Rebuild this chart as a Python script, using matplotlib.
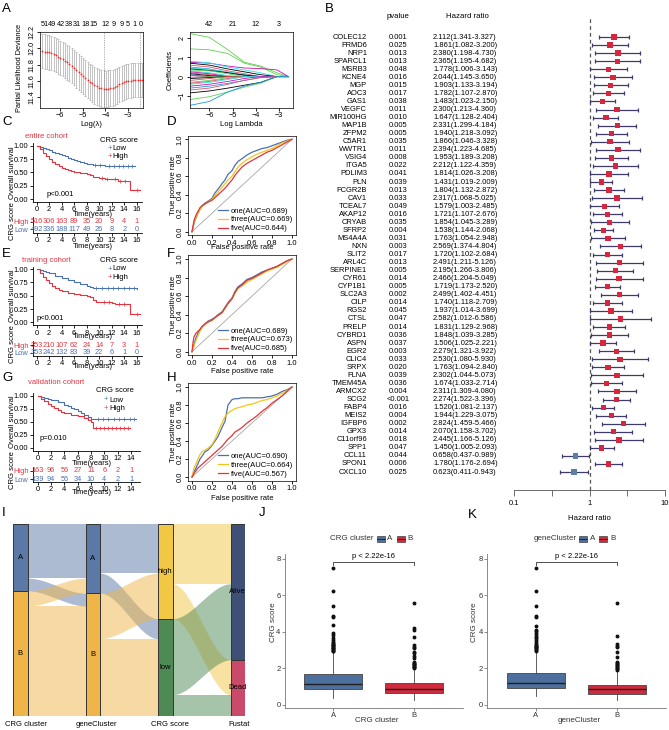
import numpy as np
import matplotlib
matplotlib.use('Agg')
import matplotlib.pyplot as plt
from matplotlib.patches import Rectangle
import matplotlib.transforms as mtransforms

plt.rcParams['font.family'] = ['Liberation Sans', 'DejaVu Sans']
plt.rcParams['font.size'] = 5
plt.rcParams['axes.linewidth'] = 0.6
for _a in ('xtick', 'ytick'):
    plt.rcParams[_a + '.major.width'] = 0.6
    plt.rcParams[_a + '.major.size'] = 2
    plt.rcParams[_a + '.major.pad'] = 1.2
    plt.rcParams[_a + '.labelsize'] = 5.2

# ======================= DATA =======================
# A (left): cross-validation curve
cv_loglam = [-6.78, -6.68, -6.58, -6.48, -6.38, -6.28, -6.18, -6.08, -5.98, -5.88,
             -5.78, -5.68, -5.58, -5.48, -5.38, -5.28, -5.18, -5.08, -4.98, -4.88,
             -4.78, -4.68, -4.58, -4.48, -4.38, -4.28, -4.18, -4.08, -3.98, -3.88,
             -3.78, -3.68, -3.58, -3.48, -3.38, -3.28, -3.18, -3.08, -2.98, -2.88,
             -2.78, -2.68, -2.58, -2.48, -2.38]
cv_dev = [11.965, 11.96, 11.955, 11.95, 11.94, 11.93, 11.915, 11.90, 11.885, 11.87,
          11.85, 11.83, 11.81, 11.79, 11.765, 11.74, 11.715, 11.69, 11.665, 11.64,
          11.615, 11.59, 11.57, 11.55, 11.535, 11.52, 11.51, 11.505, 11.503, 11.505,
          11.51, 11.52, 11.53, 11.545, 11.56, 11.575, 11.585, 11.595, 11.60, 11.605,
          11.61, 11.61, 11.612, 11.613, 11.613]
cv_se = [0.21, 0.21, 0.21, 0.21, 0.21, 0.21, 0.21, 0.21, 0.21, 0.21,
         0.215, 0.215, 0.215, 0.215, 0.215, 0.22, 0.22, 0.22, 0.22, 0.22,
         0.22, 0.22, 0.225, 0.225, 0.225, 0.225, 0.225, 0.225, 0.225, 0.225,
         0.22, 0.22, 0.22, 0.22, 0.215, 0.215, 0.215, 0.21, 0.21, 0.21,
         0.21, 0.21, 0.21, 0.21, 0.21]
cv_vlines = [-4.04, -2.47]
cv_top_pos = [-6.69, -6.33, -5.97, -5.61, -5.25, -4.89, -4.53, -4.0, -3.62, -3.27, -3.0, -2.7, -2.42]
cv_top_labels = ['51', '49', '42', '38', '31', '18', '15', '12', '9', '9', '5', '1', '0']

# A (right): lasso coefficient paths
path_loglam = [-6.83, -6.0, -5.2, -4.5, -3.8, -3.1, -2.6]
path_coefs = [
    [2.25, 2.05, 1.40, 0.75, 0.55, 0.20, 0.00],
    [1.45, 1.40, 1.20, 0.70, 0.50, 0.10, 0.00],
    [0.75, 0.70, 0.55, 0.45, 0.42, 0.35, 0.00],
    [0.80, 0.72, 0.50, 0.35, 0.20, 0.00, 0.00],
    [0.70, 0.60, 0.40, 0.25, 0.10, 0.00, 0.00],
    [0.60, 0.50, 0.30, 0.15, 0.00, 0.00, 0.00],
    [0.50, 0.40, 0.20, 0.05, 0.00, 0.00, 0.00],
    [0.45, 0.38, 0.25, 0.10, 0.00, 0.00, 0.00],
    [0.40, 0.32, 0.20, 0.08, 0.00, 0.00, 0.00],
    [0.35, 0.30, 0.15, 0.00, 0.00, 0.00, 0.00],
    [0.30, 0.20, 0.05, 0.00, 0.00, 0.00, 0.00],
    [0.25, 0.15, 0.00, 0.00, 0.00, 0.00, 0.00],
    [0.20, 0.10, 0.00, 0.00, 0.00, 0.00, 0.00],
    [0.15, 0.05, 0.00, 0.00, 0.00, 0.00, 0.00],
    [0.10, 0.00, 0.00, 0.00, 0.00, 0.00, 0.00],
    [0.05, 0.00, 0.00, 0.00, 0.00, 0.00, 0.00],
    [-0.05, 0.00, 0.00, 0.00, 0.00, 0.00, 0.00],
    [-0.10, -0.05, 0.00, 0.00, 0.00, 0.00, 0.00],
    [-0.20, -0.10, 0.00, 0.00, 0.00, 0.00, 0.00],
    [-0.30, -0.20, -0.05, 0.00, 0.00, 0.00, 0.00],
    [-0.35, -0.25, -0.10, 0.00, 0.00, 0.00, 0.00],
    [-0.40, -0.30, -0.15, 0.00, 0.00, 0.00, 0.00],
    [-0.50, -0.40, -0.25, -0.10, 0.00, 0.00, 0.00],
    [-0.60, -0.50, -0.35, -0.20, -0.05, 0.00, 0.00],
    [-0.70, -0.60, -0.40, -0.20, -0.05, 0.00, 0.00],
    [-0.85, -0.75, -0.60, -0.45, -0.30, 0.00, 0.00],
    [-1.20, -1.05, -0.80, -0.55, -0.35, 0.00, 0.00],
    [-1.50, -1.30, -0.80, -0.50, -0.30, 0.00, 0.00],
]
path_colors = ['#61D04F', '#61D04F', '#CD0BBC', '#28E2E5', '#000000', '#DF536B', '#2297E6',
               '#28E2E5', '#000000', '#61D04F', '#28E2E5', '#CD0BBC', '#DF536B', '#000000',
               '#2297E6', '#CD0BBC', '#61D04F', '#000000', '#DF536B', '#61D04F', '#DF536B',
               '#28E2E5', '#CD0BBC', '#2297E6', '#DF536B', '#000000', '#61D04F', '#2297E6']
path_top_pos = [-6, -5, -4, -3]
path_top_labels = ['42', '21', '12', '3']

# B: forest plot
genes = ['COLEC12', 'FRMD6', 'NRP1', 'SPARCL1', 'MSRB3', 'KCNE4', 'MGP', 'AOC3', 'GAS1', 'VEGFC',
         'MIR100HG', 'MAP1B', 'ZFPM2', 'C5AR1', 'WWTR1', 'VSIG4', 'ITGA5', 'PDLIM3', 'PLN', 'FCGR2B',
         'CAV1', 'TCEAL7', 'AKAP12', 'CRYAB', 'SFRP2', 'MS4A4A', 'NXN', 'SLIT2', 'ARL4C', 'SERPINE1',
         'CYR61', 'CYP1B1', 'SLC2A3', 'CILP', 'RGS2', 'CTSL', 'PRELP', 'CYBRD1', 'ASPN', 'EGR2',
         'CLIC4', 'SRPX', 'FLNA', 'TMEM45A', 'ARMCX2', 'SCG2', 'FABP4', 'MEIS2', 'IGFBP6', 'GPX3',
         'C11orf96', 'SPP1', 'CCL11', 'SPON1', 'CXCL10']
pvals = ['0.001', '0.025', '0.013', '0.013', '0.048', '0.016', '0.015', '0.017', '0.038', '0.011',
         '0.010', '0.005', '0.005', '0.035', '0.011', '0.008', '0.022', '0.041', '0.039', '0.013',
         '0.033', '0.049', '0.016', '0.035', '0.004', '0.031', '0.003', '0.017', '0.013', '0.005',
         '0.014', '0.005', '0.002', '0.014', '0.045', '0.047', '0.014', '0.036', '0.037', '0.003',
         '0.033', '0.020', '0.039', '0.036', '0.004', '<0.001', '0.016', '0.004', '0.002', '0.014',
         '0.018', '0.047', '0.044', '0.006', '0.025']
hr = [2.112, 1.861, 2.380, 2.365, 1.778, 2.044, 1.903, 1.782, 1.483, 2.300,
      1.647, 2.331, 1.940, 1.866, 2.394, 1.953, 2.212, 1.814, 1.431, 1.804,
      2.317, 1.579, 1.721, 1.854, 1.538, 1.763, 2.569, 1.720, 2.491, 2.195,
      2.466, 1.719, 2.499, 1.740, 1.937, 2.582, 1.831, 1.848, 1.506, 2.279,
      2.530, 1.763, 2.302, 1.674, 2.311, 2.274, 1.520, 1.944, 2.824, 2.070,
      2.445, 1.450, 0.658, 1.780, 0.623]
hr_lo = [1.341, 1.082, 1.198, 1.195, 1.006, 1.145, 1.133, 1.107, 1.023, 1.213,
         1.128, 1.299, 1.218, 1.046, 1.223, 1.189, 1.122, 1.026, 1.019, 1.132,
         1.068, 1.003, 1.107, 1.045, 1.144, 1.054, 1.374, 1.102, 1.211, 1.266,
         1.204, 1.173, 1.402, 1.118, 1.014, 1.012, 1.129, 1.039, 1.025, 1.321,
         1.080, 1.094, 1.044, 1.033, 1.309, 1.522, 1.081, 1.229, 1.459, 1.158,
         1.166, 1.005, 0.437, 1.176, 0.411]
hr_hi = [3.327, 3.200, 4.730, 4.682, 3.143, 3.650, 3.194, 2.870, 2.150, 4.360,
         2.404, 4.184, 3.092, 3.328, 4.685, 3.208, 4.359, 3.208, 2.009, 2.872,
         5.025, 2.485, 2.676, 3.289, 2.068, 2.948, 4.804, 2.684, 5.126, 3.806,
         5.049, 2.520, 4.451, 2.709, 3.699, 6.586, 2.968, 3.285, 2.221, 3.922,
         5.930, 2.840, 5.073, 2.714, 4.080, 3.396, 2.137, 3.075, 5.466, 3.702,
         5.126, 2.093, 0.989, 2.694, 0.943]

# C/E/G: Kaplan-Meier curves
km_c_low_t = [0, 0.5, 1, 1.5, 2, 2.5, 3, 3.5, 4, 4.5, 5, 5.5, 6, 6.5, 7, 7.5, 8, 8.5, 9, 10, 11, 15.8]
km_c_low_s = [1, 0.98, 0.96, 0.94, 0.91, 0.89, 0.87, 0.85, 0.83, 0.80, 0.77, 0.75, 0.73, 0.71, 0.69, 0.67, 0.66, 0.65, 0.64, 0.63, 0.62, 0.62]
km_c_high_t = [0, 0.5, 1, 1.5, 2, 2.5, 3, 3.5, 4, 4.5, 5, 5.5, 6, 7, 8, 8.5, 9, 9.5, 10, 11, 12, 13, 15, 16.5]
km_c_high_s = [1, 0.93, 0.86, 0.80, 0.75, 0.70, 0.66, 0.62, 0.59, 0.56, 0.54, 0.52, 0.51, 0.49, 0.47, 0.45, 0.42, 0.41, 0.40, 0.38, 0.37, 0.34, 0.17, 0.17]
km_c_low_cens = [9.3, 10.2, 11.5, 12.3, 13.1, 13.8, 14.6, 15.3]
km_c_high_cens = [10.5, 11.3, 12.5, 13.4, 14.2, 16.0]
km_e_low_t = [0, 0.5, 1, 1.5, 2, 3, 4, 5, 6, 7, 8, 8.5, 9, 10, 16]
km_e_low_s = [1, 0.98, 0.96, 0.94, 0.92, 0.88, 0.84, 0.80, 0.76, 0.72, 0.68, 0.66, 0.65, 0.64, 0.635]
km_e_high_t = [0, 0.5, 1, 1.5, 2, 2.5, 3, 3.5, 4, 5, 6, 7, 8, 8.5, 9, 9.5, 10, 12, 12.5, 15, 16.5]
km_e_high_s = [1, 0.93, 0.86, 0.79, 0.74, 0.69, 0.65, 0.61, 0.59, 0.56, 0.54, 0.52, 0.49, 0.47, 0.42, 0.39, 0.38, 0.36, 0.34, 0.15, 0.15]
km_e_low_cens = [9.5, 10.5, 11.4, 12.2, 13.0, 13.9, 14.8, 15.6]
km_e_high_cens = [10.8, 11.6, 13.2, 14.0, 16.0]
km_g_low_t = [0, 0.5, 1, 1.5, 2, 3, 4, 4.5, 5, 5.5, 6, 6.5, 7, 7.5, 8, 8.4, 14.8]
km_g_low_s = [1, 0.98, 0.96, 0.94, 0.92, 0.88, 0.83, 0.80, 0.77, 0.74, 0.71, 0.67, 0.63, 0.59, 0.56, 0.55, 0.55]
km_g_high_t = [0, 0.5, 1, 1.5, 2, 2.5, 3, 3.5, 4, 5, 6, 7, 7.5, 8, 8.3, 13.9]
km_g_high_s = [1, 0.95, 0.90, 0.85, 0.80, 0.76, 0.73, 0.70, 0.67, 0.64, 0.61, 0.57, 0.54, 0.50, 0.39, 0.39]
km_g_low_cens = [9.0, 9.8, 10.6, 11.4, 12.2, 13.0, 13.8, 14.5]
km_g_high_cens = [8.8, 9.4, 10.0, 10.6, 11.2, 11.8, 12.4, 13.0, 13.6]

risk_c_times = [0, 2, 4, 6, 8, 10, 12, 14, 16]
risk_c_high = [516, 306, 163, 89, 35, 20, 9, 4, 1]
risk_c_low = [492, 336, 188, 117, 49, 26, 8, 2, 0]
risk_e_times = [0, 2, 4, 6, 8, 10, 12, 14, 16]
risk_e_high = [353, 210, 107, 62, 24, 14, 7, 3, 1]
risk_e_low = [353, 242, 132, 83, 39, 22, 6, 1, 0]
risk_g_times = [0, 2, 4, 6, 8, 10, 12, 14]
risk_g_high = [163, 96, 56, 27, 11, 6, 2, 1]
risk_g_low = [139, 94, 56, 34, 10, 4, 2, 1]

# D/F/H: ROC curves
roc_fpr = [0, 0.01, 0.02, 0.04, 0.06, 0.08, 0.1, 0.13, 0.16, 0.2, 0.23, 0.26, 0.3, 0.33, 0.36,
           0.4, 0.43, 0.46, 0.5, 0.55, 0.6, 0.65, 0.7, 0.75, 0.8, 0.85, 0.9, 0.95, 1]
roc_d_one = [0, 0.04, 0.09, 0.15, 0.2, 0.24, 0.28, 0.31, 0.33, 0.36, 0.42, 0.46, 0.52, 0.56, 0.62,
             0.66, 0.72, 0.76, 0.79, 0.83, 0.86, 0.88, 0.90, 0.91, 0.93, 0.95, 0.97, 0.99, 1]
roc_d_three = [0, 0.05, 0.1, 0.16, 0.2, 0.24, 0.27, 0.3, 0.32, 0.35, 0.39, 0.43, 0.48, 0.52, 0.56,
               0.6, 0.65, 0.7, 0.74, 0.78, 0.81, 0.84, 0.86, 0.88, 0.9, 0.93, 0.96, 0.98, 1]
roc_d_five = [0, 0.06, 0.12, 0.18, 0.22, 0.26, 0.28, 0.3, 0.32, 0.34, 0.37, 0.4, 0.44, 0.47, 0.51,
              0.56, 0.61, 0.65, 0.7, 0.74, 0.77, 0.8, 0.83, 0.86, 0.88, 0.91, 0.94, 0.97, 1]
roc_f_one = [0, 0.03, 0.08, 0.15, 0.2, 0.24, 0.27, 0.3, 0.33, 0.35, 0.37, 0.4, 0.43, 0.48, 0.53,
             0.58, 0.65, 0.7, 0.73, 0.78, 0.8, 0.83, 0.86, 0.88, 0.9, 0.92, 0.95, 0.98, 1]
roc_f_three = [0, 0.02, 0.06, 0.12, 0.17, 0.22, 0.26, 0.29, 0.32, 0.34, 0.36, 0.39, 0.42, 0.47, 0.52,
               0.57, 0.63, 0.68, 0.71, 0.75, 0.78, 0.81, 0.84, 0.87, 0.89, 0.91, 0.94, 0.97, 1]
roc_f_five = [0, 0.1, 0.16, 0.2, 0.22, 0.24, 0.27, 0.3, 0.32, 0.34, 0.37, 0.39, 0.42, 0.47, 0.52,
              0.57, 0.64, 0.69, 0.72, 0.77, 0.79, 0.82, 0.85, 0.88, 0.9, 0.92, 0.95, 0.98, 1]
roc_h_one = [0, 0.03, 0.06, 0.1, 0.15, 0.2, 0.23, 0.28, 0.3, 0.35, 0.4, 0.45, 0.55, 0.62, 0.8,
             0.86, 0.87, 0.87, 0.88, 0.88, 0.88, 0.88, 0.88, 0.89, 0.9, 0.92, 0.95, 0.97, 1]
roc_h_three = [0, 0.05, 0.1, 0.15, 0.2, 0.25, 0.28, 0.3, 0.32, 0.36, 0.42, 0.5, 0.6, 0.67, 0.71,
               0.74, 0.76, 0.77, 0.78, 0.8, 0.81, 0.83, 0.85, 0.86, 0.88, 0.9, 0.93, 0.96, 1]
roc_h_five = [0, 0.02, 0.04, 0.07, 0.1, 0.12, 0.14, 0.17, 0.2, 0.24, 0.27, 0.3, 0.34, 0.38, 0.42,
              0.46, 0.5, 0.52, 0.55, 0.6, 0.64, 0.68, 0.73, 0.77, 0.82, 0.86, 0.9, 0.95, 1]
roc_d_labels = ['one(AUC=0.689)', 'three(AUC=0.669)', 'five(AUC=0.644)']
roc_f_labels = ['one(AUC=0.689)', 'three(AUC=0.673)', 'five(AUC=0.685)']
roc_h_labels = ['one(AUC=0.690)', 'three(AUC=0.664)', 'five(AUC=0.567)']

# I: alluvial
sk_axes = ['CRG cluster', 'geneCluster', 'CRG score', 'Fustat']
sk_axes_label_x = [26, 96, 170, 239]
sk_strata = [['A', 'B'], ['A', 'B'], ['high', 'low'], ['Alive', 'Dead']]
sk_flows = [
    {('A', 'A'): 284, ('A', 'B'): 67, ('B', 'A'): 79, ('B', 'B'): 578},
    {('A', 'high'): 258, ('A', 'low'): 105, ('B', 'high'): 239, ('B', 'low'): 406},
    {('high', 'Alive'): 314, ('high', 'Dead'): 183, ('low', 'Alive'): 399, ('low', 'Dead'): 112},
]
sk_colors = [{'A': '#5b78a6', 'B': '#efb548'}, {'A': '#5b78a6', 'B': '#efb548'},
             {'high': '#f2c744', 'low': '#4f8a55'}, {'Alive': '#3f5076', 'Dead': '#c94a6b'}]

# J/K: box plots (five-number summaries and outliers)
box_groups = ['A', 'B']
j_med = [1.17, 0.88]; j_q1 = [0.86, 0.64]; j_q3 = [1.68, 1.19]
j_lo = [0.38, 0.27]; j_hi = [2.90, 1.98]
j_out_a = [2.95, 2.98, 3.02, 3.06, 3.1, 3.14, 3.18, 3.22, 3.27, 3.31, 3.36, 3.41, 3.47, 3.56, 3.65,
           3.84, 3.93, 4.38, 4.80, 4.88, 5.42, 6.26, 7.49]
j_out_b = [2.03, 2.07, 2.1, 2.14, 2.18, 2.22, 2.27, 2.32, 2.37, 2.6, 2.7, 2.83, 2.92, 3.12, 3.2, 3.29,
           3.74, 4.1, 4.2, 5.6]
k_med = [1.22, 0.86]; k_q1 = [0.91, 0.62]; k_q3 = [1.74, 1.11]
k_lo = [0.49, 0.27]; k_hi = [2.90, 1.85]
k_out_a = [2.95, 3.0, 3.05, 3.1, 3.15, 3.2, 3.25, 3.3, 3.36, 3.45, 3.55, 3.65, 3.74, 3.84, 3.95,
           4.05, 4.1, 4.33, 4.80, 4.88, 5.42, 6.26, 7.49]
k_out_b = [1.92, 1.97, 2.02, 2.07, 2.12, 2.17, 2.22, 2.3, 2.37, 2.65, 2.92, 3.16, 3.25, 3.35,
           3.78, 5.6]
box_colors = ['#4d6f9d', '#d02a3e']

# ======================= FIGURE =======================
W, H = 669, 730
fig = plt.figure(figsize=(W / 100, H / 100), dpi=100)

def add_ax(x0, y0, x1, y1):
    return fig.add_axes([x0 / W, 1 - y1 / H, (x1 - x0) / W, (y1 - y0) / H])

def ftext(x, y, s, **kw):
    kw.setdefault('ha', 'center')
    kw.setdefault('va', 'center')
    fig.text(x / W, 1 - y / H, s, **kw)

RED = '#E4343F'
BLUE = '#4A71AF'

# panel letters
for lt, x, y in [('A', 2, 9), ('B', 325, 9), ('C', 2, 122), ('D', 167, 122), ('E', 2, 254),
                 ('F', 167, 254), ('G', 2, 378), ('H', 167, 378), ('I', 2, 513), ('J', 259, 513),
                 ('K', 468, 515)]:
    ftext(x, y, lt, fontsize=9.5, ha='left')

# ---------- A left ----------
ax = add_ax(40, 32, 143, 108)
ax.errorbar(cv_loglam, cv_dev, yerr=cv_se, fmt='none', ecolor='#aaaaaa', elinewidth=0.5,
            capsize=1.0, capthick=0.5)
ax.plot(cv_loglam, cv_dev, 'o', color='#ff2020', ms=1.3, mew=0)
for v in cv_vlines:
    ax.axvline(v, color='#666666', lw=0.5, ls=(0, (1, 1.5)))
ax.set_xlim(-6.88, -2.34)
ax.set_ylim(11.27, 12.2)
ax.set_xticks([-6, -5, -4, -3])
ax.set_yticks([11.4, 11.6, 11.8, 12.0, 12.2])
ax.set_yticklabels(['11.4', '11.6', '11.8', '12.0', '12.2'], rotation=90, va='center')
tr = mtransforms.blended_transform_factory(ax.transData, ax.transAxes)
for p, l in zip(cv_top_pos, cv_top_labels):
    ax.text(p, 1.1, l, transform=tr, ha='center', va='center', fontsize=5.2)
for s in ax.spines.values():
    s.set_linewidth(0.5)
ftext(91, 124, 'Log(λ)', fontsize=5.5)
ftext(20, 68, 'Partial Likelihood Deviance', fontsize=5.3, rotation=90)

# ---------- A right ----------
ax = add_ax(190, 32, 293, 108)
for c, col in zip(path_coefs, path_colors):
    ax.plot(path_loglam, c, color=col, lw=0.6)
ax.set_xlim(-6.83, -2.41)
ax.set_ylim(-1.64, 2.33)
ax.set_xticks([-6, -5, -4, -3])
ax.set_yticks([-1, 0, 1, 2])
ax.set_yticklabels(['−1', '0', '1', '2'], rotation=90, va='center')
tr = mtransforms.blended_transform_factory(ax.transData, ax.transAxes)
for p, l in zip(path_top_pos, path_top_labels):
    ax.text(p, 1.1, l, transform=tr, ha='center', va='center', fontsize=5.2)
for s in ax.spines.values():
    s.set_linewidth(0.5)
ftext(241, 124, 'Log Lambda', fontsize=5.5)
ftext(170, 70, 'Coefficients', fontsize=5.5, rotation=90)

# ---------- B forest ----------
axf = add_ax(514, 16, 665, 490)
rows = np.arange(len(genes))
hr_a = np.array(hr); lo_a = np.array(hr_lo); hi_a = np.array(hr_hi)
axf.axvline(1, color='#555555', lw=0.9, ls=(0, (3, 2.5)))
axf.errorbar(hr_a, rows, xerr=[hr_a - lo_a, hi_a - hr_a], fmt='none', ecolor='#3c3b6c',
             elinewidth=0.9, capsize=1.6, capthick=0.9)
axf.scatter(hr_a, rows, marker='s', s=15, c=[('#d7263d' if v > 1 else '#5b7fa7') for v in hr_a],
            zorder=3, linewidths=0)
axf.set_xscale('log')
axf.set_xlim(0.1, 10)
axf.set_ylim(56.23, -2.61)
axf.set_yticks([])
for k in ('left', 'right', 'top'):
    axf.spines[k].set_visible(False)
axf.spines['bottom'].set_color('#555555')
axf.set_xticks([0.1, 1, 10])
axf.set_xticklabels(['0.1', '1', '10'], fontsize=5.5)
axf.set_xticks([10 ** -0.5, 10 ** 0.5], minor=True)
axf.tick_params(axis='x', which='both', length=4.5, pad=3, color='#555555')
trf = mtransforms.blended_transform_factory(fig.transFigure, axf.transData)
for i in rows:
    axf.text(367 / W, i, genes[i], transform=trf, ha='right', va='center', fontsize=5.4, clip_on=False)
    axf.text(398 / W, i, pvals[i], transform=trf, ha='center', va='center', fontsize=5.4, clip_on=False)
    axf.text(433 / W, i, '%.3f(%.3f-%.3f)' % (hr[i], hr_lo[i], hr_hi[i]), transform=trf,
             ha='left', va='center', fontsize=5.4, clip_on=False)
ftext(398, 17, 'pvalue', fontsize=5.6)
ftext(467, 17, 'Hazard ratio', fontsize=5.6)
ftext(589, 518, 'Hazard ratio', fontsize=5.6)

# ---------- KM panels ----------
def step_val(ts, ss, t):
    idx = np.searchsorted(np.array(ts), t, side='right') - 1
    return np.array(ss)[idx]

def km_panel(box, xlim, low, high, cens_low, cens_high, xticks, tbox, tylim, times, r_high, r_low,
             title, title_xy, leg_y, leg_x, ptxt, p_xy, time1_y, time2_y):
    ax = add_ax(*box)
    for (t, s), cens, col in [(low, cens_low, BLUE), (high, cens_high, RED)]:
        ax.step(t, s, where='post', color=col, lw=0.8)
        ax.plot(cens, step_val(t, s, cens), '+', color=col, ms=2.5, mew=0.5)
    ax.set_xlim(*xlim)
    ax.set_ylim(-0.056, 1.05)
    ax.set_xticks(xticks)
    ax.set_yticks([0, 0.25, 0.5, 0.75, 1.0])
    ax.set_yticklabels(['0.00', '0.25', '0.50', '0.75', '1.00'])
    for k in ('right', 'top'):
        ax.spines[k].set_visible(False)
    ax.tick_params(labelsize=5.4)
    mid = (box[1] + box[3]) / 2
    ftext(12.7, mid, 'Overall survival', fontsize=5.5, rotation=90)
    ftext(title_xy[0], title_xy[1], title, fontsize=5.5, color=RED)
    ftext(leg_x, leg_y[0], 'CRG score', fontsize=5.5)
    ftext(leg_x - 9, leg_y[1], '+', fontsize=5.5, color=BLUE)
    ftext(leg_x - 6, leg_y[1], 'Low', fontsize=5.5, ha='left')
    ftext(leg_x - 9, leg_y[2], '+', fontsize=5.5, color=RED)
    ftext(leg_x - 6, leg_y[2], 'High', fontsize=5.5, ha='left')
    ftext(p_xy[0], p_xy[1], ptxt, fontsize=5.5, ha='left')
    ftext((box[0] + box[2]) / 2 + 5, time1_y, 'Time(years)', fontsize=5.4)
    # risk table
    at = add_ax(*tbox)
    at.set_xlim(*xlim)
    at.set_ylim(*tylim)
    for t, nh, nl in zip(times, r_high, r_low):
        at.text(t, 1, str(nh), color=RED, ha='center', va='center', fontsize=5.3)
        at.text(t, 0, str(nl), color=BLUE, ha='center', va='center', fontsize=5.3)
    at.set_xticks(xticks)
    at.set_yticks([1, 0])
    at.set_yticklabels(['High', 'Low'], fontsize=5.4)
    at.get_yticklabels()[0].set_color(RED)
    at.get_yticklabels()[1].set_color(BLUE)
    for k in ('right', 'top'):
        at.spines[k].set_visible(False)
    at.tick_params(labelsize=5.4)
    tmid = (tbox[1] + tbox[3]) / 2
    ftext(12.7, tmid - 4, 'CRG score', fontsize=5.5, rotation=90)
    ftext((box[0] + box[2]) / 2 + 5, time2_y, 'Time(years)', fontsize=5.4)

km_panel((33, 143, 142, 202), (-0.59, 16.85), (km_c_low_t, km_c_low_s), (km_c_high_t, km_c_high_s),
         km_c_low_cens, km_c_high_cens, risk_c_times, (33, 217, 142, 233), (-0.49, 1.62),
         risk_c_times, risk_c_high, risk_c_low, 'entire cohort', (46, 136.7), (140, 148.7, 156.7), 118.5,
         'p<0.001', (46.7, 195), 214, 246.5)
km_panel((33, 266.5, 142, 325.3), (-0.59, 16.85), (km_e_low_t, km_e_low_s), (km_e_high_t, km_e_high_s),
         km_e_low_cens, km_e_high_cens, risk_e_times, (33, 341, 142, 356), (-0.45, 1.55),
         risk_e_times, risk_e_high, risk_e_low, 'training cohort', (46, 261), (261, 269, 277.3), 118.5,
         'p<0.001', (36.7, 319), 336, 367)
km_panel((33, 393.4, 140, 450.6), (-0.7, 15.34), (km_g_low_t, km_g_low_s), (km_g_high_t, km_g_high_s),
         km_g_low_cens, km_g_high_cens, risk_g_times, (33, 466.5, 140, 481.8), (-0.3, 1.54),
         risk_g_times, risk_g_high, risk_g_low, 'validation cohort', (56, 383), (391, 400, 408.3), 115,
         'p=0.010', (40, 438), 463.3, 493)

# ---------- ROC panels ----------
def roc_panel(box, curves, labels, xlab_y):
    ax = add_ax(*box)
    ax.plot([0, 1], [0, 1], color='#a6a6a6', lw=0.6)
    for tpr, col, lab in zip(curves, ['#4a6fb0', '#f5c518', '#e0353d'], labels):
        ax.plot(roc_fpr, tpr, color=col, lw=0.9, label=lab)
    ax.set_xlim(-0.04, 1.04)
    ax.set_ylim(-0.04, 1.04)
    tk = [0, 0.2, 0.4, 0.6, 0.8, 1.0]
    ax.set_xticks(tk)
    ax.set_xticklabels(['0.0', '0.2', '0.4', '0.6', '0.8', '1.0'], fontsize=5.5)
    ax.set_yticks(tk)
    ax.set_yticklabels(['0.0', '0.2', '0.4', '0.6', '0.8', '1.0'], rotation=90, va='center', fontsize=5.5)
    for s in ax.spines.values():
        s.set_linewidth(0.5)
    ax.legend(loc='lower right', bbox_to_anchor=(1.0, 0.0), frameon=False, fontsize=5.5,
              handlelength=1.4, handletextpad=0.3, labelspacing=0.2, borderaxespad=0.2, borderpad=0.2)
    ftext((box[0] + box[2]) / 2, xlab_y, 'False positive rate', fontsize=5.5)
    ftext(173.3, (box[1] + box[3]) / 2, 'True positive rate', fontsize=5.5, rotation=90)

roc_panel((188, 135.6, 296, 235.4), [roc_d_one, roc_d_three, roc_d_five], roc_d_labels, 247.3)
roc_panel((188, 255.3, 296, 355.4), [roc_f_one, roc_f_three, roc_f_five], roc_f_labels, 371.7)
roc_panel((188, 383.4, 296, 480.6), [roc_h_one, roc_h_three, roc_h_five], roc_h_labels, 498.3)

# ---------- I alluvial ----------
axs = add_ax(13, 524, 245, 716)
bw = 0.2
total = sum(sk_flows[0].values())
axs.set_xlim(1 - bw / 2, 4 + bw / 2)
axs.set_ylim(total, 0)
axs.axis('off')
sizes = []
for k in range(4):
    d = {}
    if k < 3:
        for (a, b), n in sk_flows[k].items():
            d[a] = d.get(a, 0) + n
    else:
        for (a, b), n in sk_flows[2].items():
            d[b] = d.get(b, 0) + n
    sizes.append(d)
starts = []
for k in range(4):
    cum = 0
    st = {}
    for s in sk_strata[k]:
        st[s] = cum
        cum += sizes[k][s]
    starts.append(st)
for k in range(3):
    xa = k + 1 + bw / 2
    xb = k + 2 - bw / 2
    xs = np.linspace(xa, xb, 80)
    tt = (xs - xa) / (xb - xa)
    sm = tt * tt * (3 - 2 * tt)
    src_off = dict(starts[k])
    dst_off = dict(starts[k + 1])
    src_pos = {}
    for a in sk_strata[k]:
        for b in sk_strata[k + 1]:
            src_pos[(a, b)] = src_off[a]
            src_off[a] += sk_flows[k][(a, b)]
    dst_pos = {}
    for b in sk_strata[k + 1]:
        for a in sk_strata[k]:
            dst_pos[(a, b)] = dst_off[b]
            dst_off[b] += sk_flows[k][(a, b)]
    for a in sk_strata[k]:
        for b in sk_strata[k + 1]:
            n = sk_flows[k][(a, b)]
            y0 = src_pos[(a, b)]
            y1 = dst_pos[(a, b)]
            top = y0 + (y1 - y0) * sm
            axs.fill_between(xs, top, top + n, color=sk_colors[k][a], alpha=0.5, lw=0)
for k in range(4):
    for s in sk_strata[k]:
        axs.bar(k + 1, sizes[k][s], bottom=starts[k][s], width=bw, color=sk_colors[k][s],
                edgecolor='#333333', lw=0.7)
        axs.text(k + 1, starts[k][s] + sizes[k][s] / 2, s, ha='center', va='center', fontsize=5.5)
for name, xpx in zip(sk_axes, sk_axes_label_x):
    ftext(xpx, 724, name, fontsize=5.5)

# ---------- J / K box plots ----------
def box_panel(box, med, q1, q3, lo, hi, outs, title, xlab, leg, ylab_x):
    ax = add_ax(*box)
    stats = []
    for i in range(2):
        stats.append(dict(med=med[i], q1=q1[i], q3=q3[i], whislo=lo[i], whishi=hi[i], fliers=outs[i]))
    bp = ax.bxp(stats, positions=[1, 2], widths=0.72, patch_artist=True, showcaps=False,
                medianprops=dict(color='#1e1e1e', lw=1.0),
                whiskerprops=dict(color='#444444', lw=0.6),
                flierprops=dict(marker='o', ms=1.8, mfc='#111111', mec='#111111'))
    for p, c in zip(bp['boxes'], box_colors):
        p.set_facecolor(c)
        p.set_edgecolor('#444444')
        p.set_linewidth(0.6)
    ax.set_xlim(0.4, 2.6)
    ax.set_ylim(-0.15, 8.3)
    ax.set_yticks([0, 2, 4, 6, 8])
    ax.set_xticks([1, 2])
    ax.set_xticklabels(box_groups)
    for k in ('right', 'top'):
        ax.spines[k].set_visible(False)
    for k in ('left', 'bottom'):
        ax.spines[k].set_color('#777777')
    ax.tick_params(color='#777777', labelsize=5.5, labelcolor='#333333')
    ax.plot([1, 1, 2, 2], [7.65, 7.84, 7.84, 7.65], color='#333333', lw=0.6)
    ax.text(1.5, 8.16, 'p < 2.22e-16', ha='center', va='center', fontsize=5.5)
    ftext((box[0] + box[2]) / 2 + 3, 720, xlab, fontsize=5.8, color='#333333')
    ftext(ylab_x, (box[1] + box[3]) / 2 - 8, 'CRG score', fontsize=5.8, rotation=90, color='#333333')
    tx, ax_a, tx_a, ax_b, tx_b = leg
    ftext(tx, 539, title, fontsize=5.8, ha='right', color='#333333')
    for xk, c in [(ax_a, box_colors[0]), (ax_b, box_colors[1])]:
        fig.patches.append(Rectangle((xk / W, 1 - 542 / H), 8 / W, 6 / H, transform=fig.transFigure,
                                     facecolor=c, edgecolor='#444444', lw=0.5))
        fig.lines.append(plt.Line2D([xk / W, (xk + 8) / W], [1 - 539 / H, 1 - 539 / H],
                                    transform=fig.transFigure, color='#1e1e1e', lw=0.6))
    ftext(tx_a, 539, 'A', fontsize=5.8, color='#333333')
    ftext(tx_b, 539, 'B', fontsize=5.8, color='#333333')

box_panel((285, 553.5, 462.6, 707.7), j_med, j_q1, j_q3, j_lo, j_hi, [j_out_a, j_out_b],
          'CRG cluster', 'CRG cluster', (373.5, 377, 390, 397, 410), 273.3)
box_panel((487.4, 553.5, 665.6, 707.7), k_med, k_q1, k_q3, k_lo, k_hi, [k_out_a, k_out_b],
          'geneCluster', 'geneCluster', (577, 578.5, 593, 598.5, 613), 475)

fig.savefig('out.png', dpi=100)
